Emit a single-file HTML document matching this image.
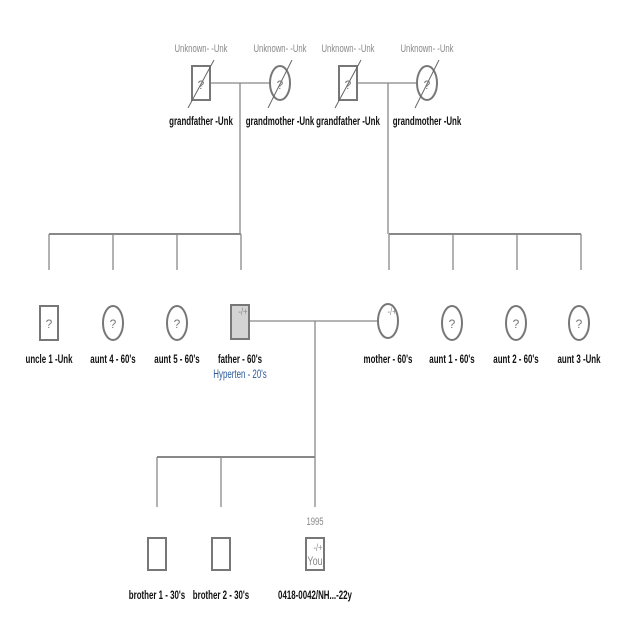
<!DOCTYPE html>
<html><head><meta charset="utf-8"><style>
html,body{margin:0;padding:0;background:#fff;width:640px;height:640px;overflow:hidden}
svg text{font-family:"Liberation Sans",sans-serif}
.n{font-size:12px;font-weight:bold;fill:#111}
.u{font-size:11px;fill:#888}
.q{font-size:12px;fill:#777}
</style></head><body>
<svg width="640" height="640" viewBox="0 0 640 640" xmlns="http://www.w3.org/2000/svg">
<g stroke="#888" stroke-width="1.3" fill="none">
<line x1="210" y1="83" x2="270" y2="83"/><line x1="240" y1="83" x2="240" y2="234"/>
<line x1="357" y1="83" x2="417" y2="83"/><line x1="388" y1="83" x2="388" y2="234"/>
<line x1="49" y1="234" x2="241" y2="234" stroke-width="2"/>
<line x1="49" y1="234" x2="49" y2="270"/><line x1="113" y1="234" x2="113" y2="270"/><line x1="177" y1="234" x2="177" y2="270"/><line x1="241" y1="234" x2="241" y2="270"/>
<line x1="389" y1="234" x2="581" y2="234" stroke-width="2"/>
<line x1="389" y1="234" x2="389" y2="270"/><line x1="453" y1="234" x2="453" y2="270"/><line x1="517" y1="234" x2="517" y2="270"/><line x1="581" y1="234" x2="581" y2="270"/>
<line x1="249" y1="321" x2="378" y2="321"/><line x1="315" y1="321" x2="315" y2="507"/>
<line x1="157" y1="457" x2="315" y2="457" stroke-width="2"/>
<line x1="157" y1="457" x2="157" y2="507"/><line x1="221" y1="457" x2="221" y2="507"/>
</g>
<g stroke="#777" stroke-width="2" fill="#fff">
<rect x="192" y="66" width="18" height="34"/><ellipse cx="280" cy="83" rx="10" ry="17"/>
<rect x="339" y="66" width="18" height="34"/><ellipse cx="427" cy="83" rx="10" ry="17"/>
<rect x="40" y="306" width="18" height="34"/>
<ellipse cx="113" cy="323" rx="10" ry="17"/><ellipse cx="177" cy="323" rx="10" ry="17"/>
<rect x="231" y="305" width="18" height="34" fill="#d4d4d4"/>
<ellipse cx="388" cy="321" rx="10" ry="17"/>
<ellipse cx="452" cy="323" rx="10" ry="17"/><ellipse cx="516" cy="323" rx="10" ry="17"/><ellipse cx="579" cy="323" rx="10" ry="17"/>
<rect x="148" y="538" width="18" height="32"/><rect x="212" y="538" width="18" height="32"/><rect x="306" y="538" width="18" height="32"/>
</g>
<g stroke="#666" stroke-width="1">
<line x1="188" y1="108" x2="214" y2="60"/><line x1="268" y1="108" x2="292" y2="60"/>
<line x1="335" y1="108" x2="361" y2="60"/><line x1="415" y1="108" x2="439" y2="60"/>
</g>
<g text-anchor="middle">
<g class="q"><text x="201" y="89">?</text><text x="280" y="89">?</text><text x="348" y="89">?</text><text x="427" y="89">?</text>
<text x="49" y="328">?</text><text x="113" y="328">?</text><text x="177" y="328">?</text>
<text x="452" y="328">?</text><text x="516" y="328">?</text><text x="579" y="328">?</text></g>
<g class="u">
<text transform="translate(201,52) scale(0.7,1)">Unknown- -Unk</text>
<text transform="translate(280,52) scale(0.7,1)">Unknown- -Unk</text>
<text transform="translate(348,52) scale(0.7,1)">Unknown- -Unk</text>
<text transform="translate(427,52) scale(0.7,1)">Unknown- -Unk</text>
<text transform="translate(315,525) scale(0.7,1)">1995</text>
<text transform="translate(243,315) scale(0.75,1)" font-size="10">-/+</text>
<text transform="translate(392,315) scale(0.75,1)" font-size="10">-/+</text>
<text transform="translate(318,551) scale(0.75,1)" font-size="10">-/+</text>
<text transform="translate(315,565) scale(0.75,1)" font-size="12">You</text>
</g>
<g class="n">
<text transform="translate(201,125) scale(0.66,1)">grandfather -Unk</text>
<text transform="translate(280,125) scale(0.66,1)">grandmother -Unk</text>
<text transform="translate(348,125) scale(0.66,1)">grandfather -Unk</text>
<text transform="translate(427,125) scale(0.66,1)">grandmother -Unk</text>
<text transform="translate(49,363) scale(0.66,1)">uncle 1 -Unk</text>
<text transform="translate(113,363) scale(0.66,1)">aunt 4 - 60's</text>
<text transform="translate(177,363) scale(0.66,1)">aunt 5 - 60's</text>
<text transform="translate(240,363) scale(0.66,1)">father - 60's</text>
<text transform="translate(240,378) scale(0.66,1)" fill="#2a5a9a" font-weight="normal">Hyperten - 20's</text>
<text transform="translate(388,363) scale(0.66,1)">mother - 60's</text>
<text transform="translate(452,363) scale(0.66,1)">aunt 1 - 60's</text>
<text transform="translate(516,363) scale(0.66,1)">aunt 2 - 60's</text>
<text transform="translate(579,363) scale(0.66,1)">aunt 3 -Unk</text>
<text transform="translate(157,599) scale(0.66,1)">brother 1 - 30's</text>
<text transform="translate(221,599) scale(0.66,1)">brother 2 - 30's</text>
<text transform="translate(315,599) scale(0.66,1)">0418-0042/NH...-22y</text>
</g>
</g>
</svg>
</body></html>
